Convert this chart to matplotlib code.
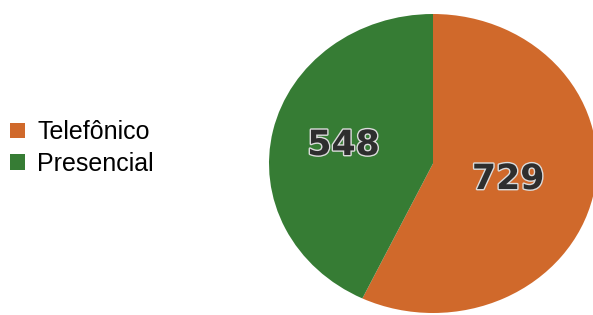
import numpy as np
import matplotlib.pyplot as plt
import matplotlib.patheffects as pe

# data
labels = ["Telefônico", "Presencial"]
values = [729, 548]
colors = ["#D0692B", "#367C34"]
label_dist = [0.47, 0.56]  # radial position of each value label

W, H = 593, 315
fig = plt.figure(figsize=(W / 100, H / 100), dpi=100)
fig.patch.set_facecolor("white")

# pie box in pixels (the scan is slightly stretched horizontally)
left, top, right, bottom = 269, 14, 597, 313
ax = fig.add_axes([left / W, 1 - bottom / H, (right - left) / W, (bottom - top) / H])

wedges, texts, autotexts = ax.pie(
    values,
    colors=colors,
    startangle=90,
    counterclock=False,
    radius=1,
    autopct=lambda p: f"{p * sum(values) / 100:.0f}",
    textprops=dict(fontsize=25, fontweight="bold", color="#2e2e2e",
                   family="DejaVu Sans"),
    wedgeprops=dict(linewidth=0),
)
for w, t, d in zip(wedges, autotexts, label_dist):
    mid = np.deg2rad((w.theta1 + w.theta2) / 2)
    t.set_position((d * np.cos(mid), d * np.sin(mid)))
    t.set_path_effects([pe.withStroke(linewidth=2, foreground="#dcdcdc")])

ax.set_aspect("auto")
ax.set_xlim(-1, 1)
ax.set_ylim(-1, 1)
ax.axis("off")

fig.legend(
    wedges,
    labels,
    loc="center left",
    bbox_to_anchor=(10 / W, 1 - 148 / H),
    frameon=False,
    prop=dict(family="Liberation Sans", size=18),
    handlelength=0.58,
    handleheight=0.58,
    handletextpad=0.5,
    labelspacing=0.3,
    borderaxespad=0,
    borderpad=0,
)

fig.savefig("out.png", dpi=100)
